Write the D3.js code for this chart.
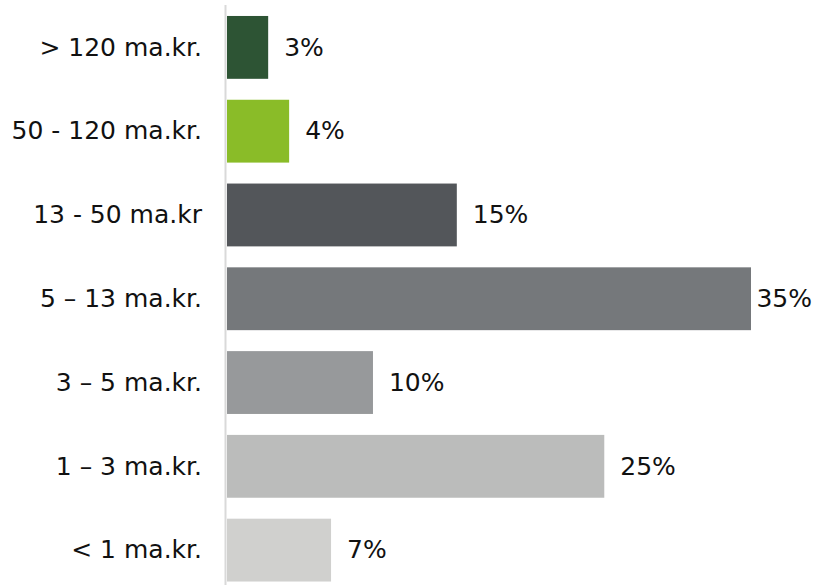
<!DOCTYPE html>
<html><head><meta charset="utf-8">
<script src="https://cdn.jsdelivr.net/npm/d3@7"></script>
<style>body{margin:0;background:#fff}svg{display:block}</style>
</head><body>
<svg id="chart" width="825" height="585"></svg>
<script>
const categories = ["> 120 ma.kr.", "50 - 120 ma.kr.", "13 - 50 ma.kr", "5 – 13 ma.kr.", "3 – 5 ma.kr.", "1 – 3 ma.kr.", "< 1 ma.kr."];
const values = [2.75, 4.15, 15.35, 35, 9.75, 25.2, 6.95];
const valueLabels = ["3%", "4%", "15%", "35%", "10%", "25%", "7%"];
const colors = ["#2d5434", "#8abc28", "#53565a", "#75787b", "#97999b", "#bbbcbb", "#d0d0ce"];

const svg = d3.select("#chart");
const x0 = 227, xEnd = 751;
const x = d3.scaleLinear().domain([0, 35]).range([x0, xEnd]);
const y = d3.scaleBand().domain(categories).range([5.5, 592]).paddingInner(0.25).paddingOuter(0.125);
const font = "DejaVu Sans, Verdana, sans-serif";

svg.selectAll("rect.bar").data(categories).enter().append("rect")
  .attr("class","bar")
  .attr("x", x(0)).attr("y", d => y(d))
  .attr("width", (d,i) => x(values[i]) - x(0))
  .attr("height", y.bandwidth())
  .attr("fill", (d,i) => colors[i]);

svg.append("line").attr("x1", 225.5).attr("x2", 225.5).attr("y1", 5).attr("y2", 585)
  .attr("stroke", "#d9d9d9").attr("stroke-width", 2);

svg.selectAll("text.cat").data(categories).enter().append("text")
  .attr("class","cat")
  .attr("x", 202).attr("y", d => y(d) + y.bandwidth()/2)
  .attr("dy", "0.33em").attr("text-anchor", "end")
  .style("font-family", font).style("font-size", "25px").attr("fill", "#111")
  .text(d => d);

svg.selectAll("text.val").data(categories).enter().append("text")
  .attr("class","val")
  .attr("x", (d,i) => x(values[i]) + 16).attr("y", d => y(d) + y.bandwidth()/2)
  .attr("dy", "0.33em")
  .style("font-family", font).style("font-size", "25px").attr("fill", "#111")
  .text((d,i) => valueLabels[i])
  .each(function(){
    const w = this.getComputedTextLength();
    const cx = +this.getAttribute("x");
    if (cx + w > 812) this.setAttribute("x", 812 - w);
  });
</script>
</body></html>
